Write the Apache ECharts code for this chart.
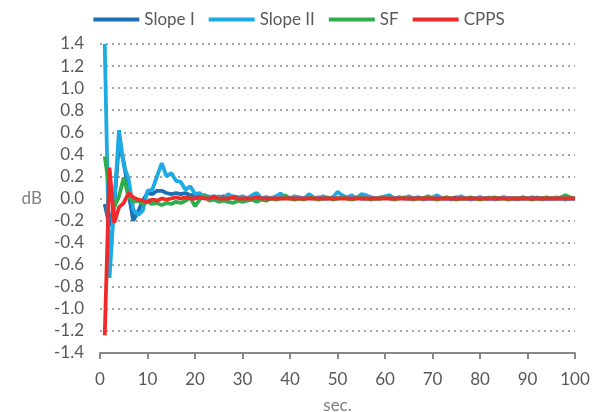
<!DOCTYPE html>
<html>
<head>
<meta charset="utf-8">
<script src="https://cdn.jsdelivr.net/npm/echarts@6/dist/echarts.min.js"></script>
<style>html,body{margin:0;padding:0;background:#fff}#c{width:598px;height:412px}</style>
</head>
<body>
<div id="c"></div>
<script>
const seconds = Array.from({length:100},(_, i)=>i+1);
const slopeI = [
 -0.05,-0.25,-0.05,0.50,0.33,0.05,-0.20,-0.12,-0.02,0.05,
 0.04,0.07,0.07,0.05,0.04,0.05,0.04,0.05,0.03,0.03,
 0.02,0.03,0.01,0.02,0.01,0.02,0.01,0.02,0.01,0.01,
 0.00,0.01,0.01,0.00,0.01,0.00,0.01,0.00,0.01,0.00,
 0.01,0.00,0.00,0.01,0.00,0.01,0.00,0.00,0.01,0.00,
 0.01,0.00,0.00,0.01,0.00,0.00,0.01,0.00,0.00,0.01,
 0.00,0.00,0.01,0.00,0.00,0.00,0.01,0.00,0.00,0.00,
 0.01,0.00,0.00,0.00,0.01,0.00,0.00,0.00,0.00,0.01,
 0.00,0.00,0.00,0.00,0.01,0.00,0.00,0.00,0.00,0.00,
 0.01,0.00,0.00,0.00,0.00,0.00,0.00,0.00,0.00,0.00
];
const slopeII = [
 1.40,-0.72,-0.05,0.62,0.30,0.18,-0.10,-0.15,-0.11,0.07,
 0.08,0.20,0.32,0.20,0.23,0.16,0.15,0.08,0.11,0.04,
 0.05,0.00,0.02,-0.01,0.02,0.00,0.04,0.01,0.00,0.02,
 0.00,0.03,0.05,0.00,0.01,0.00,0.02,0.045,0.01,0.00,
 0.02,0.01,0.00,0.04,0.01,0.00,0.02,0.00,0.01,0.06,
 0.03,0.01,0.03,0.00,0.04,0.03,0.01,0.00,0.01,0.02,
 0.03,0.00,0.01,0.00,0.02,0.00,0.01,-0.01,0.00,0.01,
 0.03,0.00,0.01,-0.01,0.00,0.02,0.00,-0.01,0.00,0.01,
 0.00,0.01,-0.01,0.00,0.01,0.00,0.00,-0.01,0.01,0.00,
 0.00,0.01,-0.01,0.00,0.00,0.01,0.00,-0.01,0.00,0.00
];
const sf = [
 0.38,0.08,-0.08,0.02,0.19,0.02,-0.03,-0.02,-0.05,-0.03,
 -0.05,-0.04,-0.06,-0.04,-0.05,-0.03,-0.04,-0.02,0.01,-0.07,
 -0.01,0.03,-0.02,-0.01,-0.03,-0.02,-0.03,-0.04,-0.02,-0.03,
 -0.02,-0.01,-0.03,-0.01,-0.02,0.00,-0.01,0.00,0.03,0.00,
 -0.01,0.00,-0.01,0.01,0.00,-0.01,0.00,0.01,-0.01,0.00,
 0.01,0.00,-0.01,0.00,0.01,0.00,-0.01,0.00,0.00,0.01,
 0.00,-0.01,0.00,0.01,0.00,-0.01,0.00,0.00,0.02,0.00,
 -0.01,0.00,0.01,0.00,-0.01,0.00,0.00,0.01,0.00,-0.01,
 0.00,0.00,0.01,0.00,0.00,-0.01,0.00,0.00,0.01,0.00,
 -0.01,0.00,0.00,0.01,0.00,0.00,0.01,0.03,0.01,0.00
];
const cpps = [
 -1.24,0.28,-0.22,-0.08,-0.04,0.05,0.01,-0.01,-0.02,-0.03,
 -0.01,-0.02,0.00,-0.01,0.00,0.01,0.00,0.01,0.00,0.00,
 0.01,0.00,0.00,0.01,0.00,0.00,0.00,0.01,0.00,0.00,
 0.00,0.00,0.01,0.00,0.00,0.00,0.00,0.00,0.00,0.00,
 0.00,0.00,0.00,0.00,0.00,0.00,0.00,0.00,0.00,0.00,
 0.00,0.00,0.00,0.00,0.00,0.00,0.00,0.00,0.00,0.00,
 0.00,0.00,0.00,0.00,0.00,0.00,0.00,0.00,0.00,0.00,
 0.00,0.00,0.00,0.00,0.00,0.00,0.00,0.00,0.00,0.00,
 0.00,0.00,0.00,0.00,0.00,0.00,0.00,0.00,0.00,0.00,
 0.00,0.00,0.00,0.00,0.00,0.00,0.00,0.00,0.00,0.00
];
const seriesNames = ['Slope I','Slope II','SF','CPPS'];
const seriesColors = ['#1F6FB5','#1EAAE2','#2EAE4E','#EE2A2A'];
const seriesValues = [slopeI, slopeII, sf, cpps];

const font = 'Lato, "Open Sans", sans-serif';
const chart = echarts.init(document.getElementById('c'), null, {renderer:'canvas'});
chart.setOption({
  animation:false,
  backgroundColor:'#fff',
  textStyle:{fontFamily:font},
  legend:{
    top:6, left:'center',
    icon:'rect', itemWidth:46, itemHeight:4, itemGap:14,
    textStyle:{fontSize:17, color:'#595959', fontFamily:font},
    data:seriesNames
  },
  grid:{left:100, right:23, top:44, bottom:59, containLabel:false, outerBoundsMode:'none'},
  xAxis:{
    type:'value', min:0, max:100, interval:10,
    name:'sec.', nameLocation:'middle', nameGap:44,
    nameTextStyle:{fontSize:17, color:'#7f7f7f', fontFamily:font},
    axisLine:{show:true, onZero:false, lineStyle:{color:'#888', width:2}},
    axisTick:{show:true, length:6, lineStyle:{color:'#888', width:2}},
    axisLabel:{fontSize:17, color:'#595959', margin:18, fontFamily:font},
    splitLine:{show:false}
  },
  yAxis:{
    type:'value', min:-1.4, max:1.4, interval:0.2,
    name:'dB', nameLocation:'middle', nameRotate:0, nameGap:58,
    nameTextStyle:{fontSize:17, color:'#7f7f7f', fontFamily:font},
    axisLine:{show:false}, axisTick:{show:false},
    axisLabel:{fontSize:17, color:'#595959', margin:16, fontFamily:font,
      formatter:v=>v.toFixed(1)},
    splitLine:{show:true, lineStyle:{color:'#a6a6a6', width:2, type:[2,4]}}
  },
  series: seriesNames.map((n,i)=>({
    name:n, type:'line', showSymbol:false, symbol:'none',
    data: seconds.map((t,j)=>[t, seriesValues[i][j]]),
    lineStyle:{color:seriesColors[i], width:3.8},
    itemStyle:{color:seriesColors[i]},
    clip:true, z:2+i
  }))
});
</script>
</body>
</html>
